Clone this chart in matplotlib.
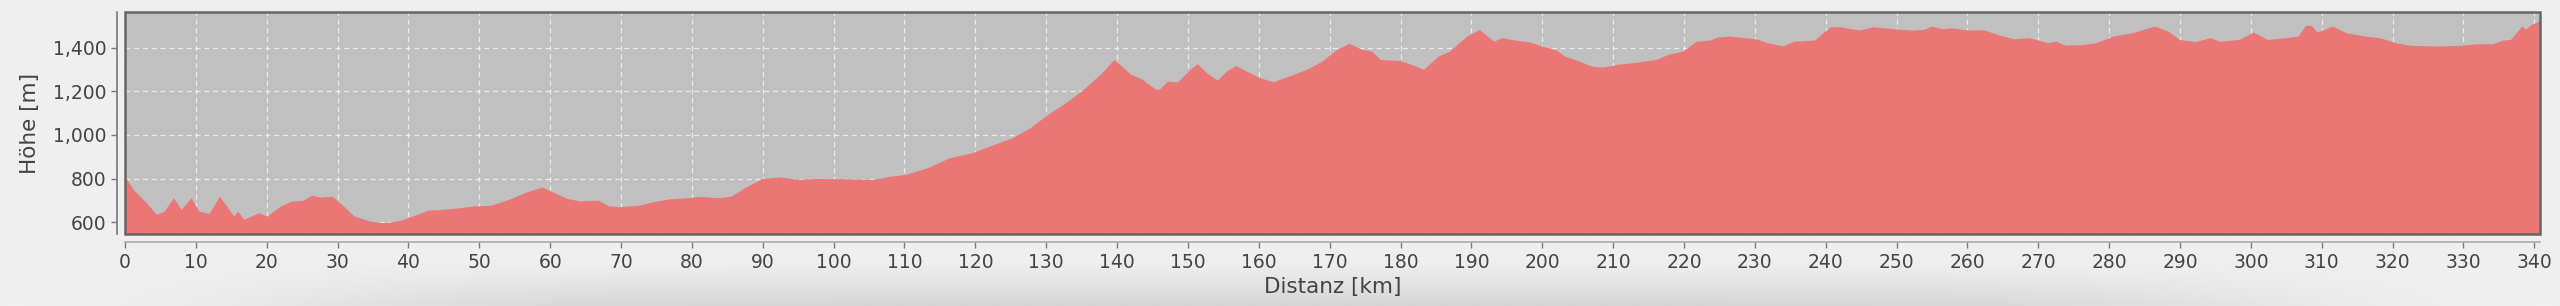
import matplotlib
matplotlib.use("Agg")
import matplotlib.pyplot as plt
import numpy as np
from matplotlib.patches import Rectangle
from matplotlib.ticker import FuncFormatter

# Elevation profile
distanz_km = [0, 1.2, 3.1, 4.5, 5.6, 6.9, 8.0, 9.4, 10.5, 11.9, 13.4, 14.4, 15.4, 16.0, 16.8,
              17.9, 18.9, 20.1, 22.0, 23.6, 25.2, 26.4, 27.7, 29.3, 30.9, 32.4, 34.6, 36.8,
              39.1, 40.9, 42.8, 44.7, 47.3, 49.1, 51.7, 54.2, 56.7, 58.9, 60.2, 62.4, 64.3,
              66.8, 68.4, 70.0, 72.5, 74.4, 76.9, 79.5, 81.2, 83.7, 85.6, 87.5, 90.0, 92.5,
              95.0, 97.6, 101.3, 105.7, 107.6, 110.2, 113.3, 116.4, 119.6, 122.1, 125.3,
              127.8, 130.3, 132.8, 135.3, 137.9, 139.6, 140.7, 142.0, 143.5, 145.4, 146.0,
              147.2, 148.6, 150.1, 151.4, 152.7, 154.2, 155.5, 156.8, 158.3, 160.2, 162.1,
              164.3, 166.8, 169.0, 170.9, 172.8, 174.7, 176.0, 177.2, 180.0, 181.6, 183.3,
              185.4, 187.0, 189.4, 191.2, 193.2, 194.4, 196.2, 198.3, 200.0, 202.1, 203.2,
              205.3, 207.0, 208.6, 210.7, 213.4, 216.1, 217.8, 219.9, 221.8, 223.7, 224.8,
              226.4, 228.6, 230.2, 231.8, 234.0, 235.6, 238.5, 240.7, 242.1, 244.8, 246.7,
              249.6, 252.3, 253.9, 255.0, 256.6, 257.7, 260.4, 262.4, 264.5, 266.6, 268.7,
              269.8, 271.4, 272.5, 273.9, 276.3, 278.2, 280.6, 283.3, 286.5, 288.4, 290.0,
              292.2, 294.3, 295.7, 298.4, 300.4, 302.4, 304.9, 306.7, 307.8, 308.6, 309.4,
              311.6, 313.5, 316.2, 318.3, 320.5, 322.6, 326.4, 329.6, 331.8, 334.2, 335.6,
              336.7, 338.3, 338.8, 339.6, 340.8]
hoehe_m = [812, 748, 687, 634, 649, 710, 656, 710, 649, 637, 717, 672, 626, 649, 611,
           626, 641, 626, 672, 695, 698, 721, 713, 717, 672, 626, 603, 595,
           608, 629, 653, 656, 664, 672, 675, 702, 736, 759, 740, 707, 695,
           699, 672, 669, 675, 690, 705, 710, 716, 710, 717, 756, 798, 805,
           794, 798, 797, 794, 806, 817, 847, 893, 916, 947, 985,
           1031, 1092, 1145, 1206, 1282, 1343, 1313, 1275, 1255, 1209, 1206,
           1244, 1240, 1290, 1324, 1282, 1249, 1290, 1316, 1290, 1260, 1241,
           1267, 1298, 1336, 1386, 1417, 1389, 1382, 1343, 1338, 1321, 1298,
           1359, 1382, 1450, 1481, 1427, 1443, 1432, 1423, 1405, 1386, 1359,
           1336, 1313, 1308, 1321, 1331, 1343, 1366, 1382, 1427, 1432, 1446,
           1450, 1443, 1438, 1420, 1405, 1427, 1432, 1493, 1493, 1478, 1493,
           1484, 1478, 1481, 1496, 1484, 1488, 1478, 1479, 1456, 1438, 1443,
           1435, 1420, 1427, 1409, 1411, 1420, 1450, 1466, 1496, 1473, 1435,
           1425, 1443, 1427, 1435, 1469, 1435, 1443, 1450, 1500, 1499, 1469,
           1496, 1466, 1450, 1443, 1420, 1408, 1405, 1408, 1415, 1415, 1432,
           1435, 1496, 1481, 1504, 1519]

x_ticks = np.arange(0, 341, 10)
y_ticks = [600, 800, 1000, 1200, 1400]

fig = plt.figure(figsize=(25.6, 3.06), dpi=100, facecolor='#eeeeee')

# soft shadow along the bottom of the image
bg = fig.add_axes([0, 0, 1, 1], zorder=-10)
gx = np.linspace(0, 1, 400)
gy = np.linspace(0, 1, 120)
GX, GY = np.meshgrid(gx, gy)
shade = np.clip((0.15 - GY) / 0.15, 0, 1) ** 1.3
shade *= np.exp(-((GX - 0.5) / 0.38) ** 6)
bg.imshow(0.935 - 0.10 * shade, cmap='gray', vmin=0, vmax=1, origin='lower',
          extent=[0, 1, 0, 1], aspect='auto', interpolation='bilinear')
bg.set_axis_off()

ax = fig.add_axes([125 / 2560, 1 - 234 / 306, 2415 / 2560, 222 / 306])
ax.set_facecolor('#c0c0c0')
ax.fill_between(distanz_km, hoehe_m, 0, color='#ea7676', linewidth=0, zorder=2)

ax.set_xlim(0, 340.8)
ax.set_ylim(546, 1563)
ax.set_xticks(x_ticks)
ax.set_yticks(y_ticks)
ax.yaxis.set_major_formatter(FuncFormatter(lambda v, p: f"{v:,.0f}"))
ax.grid(True, color='white', linestyle=(0, (4, 3)), linewidth=0.9, alpha=0.7, zorder=1)
ax.set_axisbelow(True)

for s in ['top', 'right']:
    ax.spines[s].set_visible(False)
ax.spines['left'].set_position(('outward', 6))
ax.spines['bottom'].set_position(('outward', 6))
ax.spines['left'].set_color('#777777')
ax.spines['bottom'].set_color('#aaaaaa')
ax.spines['left'].set_linewidth(1.2)
ax.spines['bottom'].set_linewidth(1.2)

# frame round the plot area
ax.add_patch(Rectangle((0, 0), 1, 1, transform=ax.transAxes, fill=False,
                       edgecolor='#666666', linewidth=1.8, zorder=5, clip_on=False))

ax.tick_params(axis='both', colors='#777777', labelcolor='#444444', labelsize=13.5,
               length=4, width=1)
ax.tick_params(axis='x', pad=4)
ax.set_xlabel("Distanz [km]", fontsize=15.5, color='#444444', labelpad=3)
ax.set_ylabel("Höhe [m]", fontsize=15.5, color='#444444', labelpad=9)

fig.savefig("out.png", dpi=100, facecolor=fig.get_facecolor())
